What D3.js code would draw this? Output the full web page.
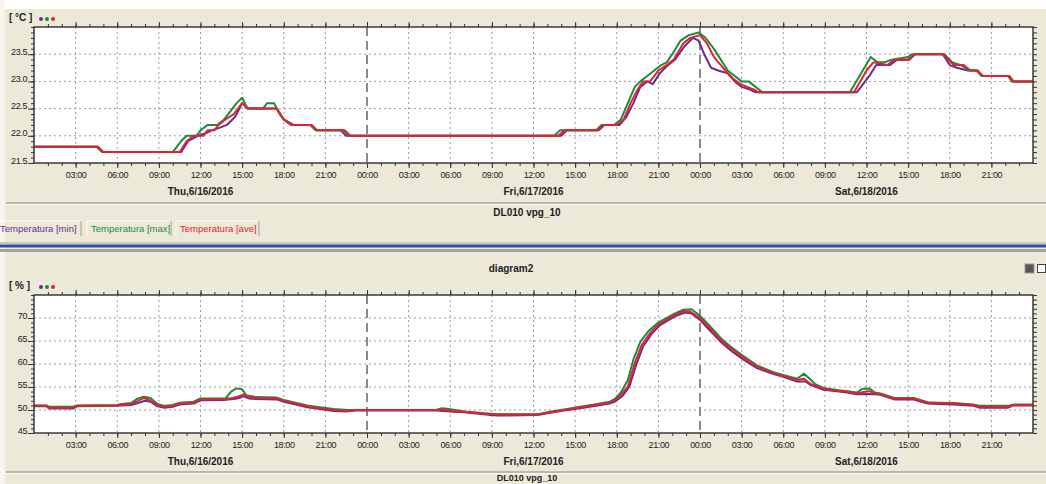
<!DOCTYPE html>
<html>
<head>
<meta charset="utf-8">
<title>DL010 vpg_10</title>
<script src="https://d3js.org/d3.v7.min.js"></script>
<style>
  body { margin: 0; background: #fff; }
  text { font-family: "Liberation Sans", Arial, sans-serif; }
  .tick text { font-size: 9px; fill: #222; letter-spacing: -0.4px; }
  .domain { display: none; }
  .tick line { stroke: #333; }
  .grid line { stroke: #9a9a9a; stroke-dasharray: 2,3; }
  .dayline { stroke: #8a8a8a; stroke-width: 2; stroke-dasharray: 9,5; }
  .series { fill: none; stroke-width: 2; stroke-linejoin: round; }
</style>
</head>
<body>
<script>

// hours since Thu 6/16/2016 00:00, value
var tempMin = [[0,21.8],[4.6,21.8],[5.0,21.7],[10.6,21.7],[11.1,21.9],[11.8,22.0],[12.4,22.05],[12.8,22.1],[13.4,22.15],[13.9,22.2],[14.5,22.35],[15.0,22.6],[15.4,22.5],[17.5,22.5],[18.0,22.3],[18.7,22.2],[20.0,22.2],[20.4,22.1],[22.1,22.1],[22.5,22.0],[38.0,22.0],[38.4,22.1],[40.7,22.1],[41.1,22.2],[42.2,22.2],[42.7,22.35],[43.2,22.6],[43.7,22.9],[44.2,23.0],[44.6,22.95],[45.1,23.15],[45.7,23.3],[46.2,23.4],[46.9,23.65],[47.5,23.8],[47.9,23.75],[48.3,23.5],[48.8,23.25],[49.3,23.2],[50.0,23.15],[50.5,23.0],[51.0,22.9],[51.6,22.85],[52.0,22.8],[59.3,22.8],[60.2,23.1],[60.7,23.3],[61.7,23.3],[62.2,23.4],[63.1,23.4],[63.5,23.5],[65.5,23.5],[66.0,23.3],[66.5,23.25],[67.3,23.2],[68.0,23.2],[68.3,23.1],[70.2,23.1],[70.5,23.0],[72,23.0]];
var tempMax = [[0,21.8],[4.5,21.8],[4.9,21.7],[10.0,21.7],[10.6,21.9],[11.0,22.0],[11.7,22.0],[12.0,22.1],[12.5,22.2],[13.2,22.2],[13.7,22.3],[14.0,22.4],[14.3,22.5],[14.6,22.6],[15.0,22.7],[15.4,22.5],[16.5,22.5],[16.8,22.6],[17.3,22.6],[17.7,22.4],[18.0,22.3],[18.5,22.2],[19.9,22.2],[20.3,22.1],[22.3,22.1],[22.7,22.0],[37.5,22.0],[37.9,22.1],[40.5,22.1],[40.9,22.2],[41.8,22.2],[42.3,22.3],[42.8,22.6],[43.3,22.9],[43.7,23.0],[44.2,23.1],[44.7,23.2],[45.2,23.3],[45.6,23.35],[46.0,23.5],[46.6,23.75],[47.2,23.85],[47.9,23.9],[48.4,23.8],[49.0,23.6],[49.5,23.4],[50.0,23.2],[50.5,23.1],[51.0,23.0],[51.5,23.0],[52.0,22.9],[52.5,22.8],[58.8,22.8],[59.5,23.1],[60.3,23.45],[60.8,23.35],[61.3,23.35],[61.8,23.4],[63.0,23.45],[63.3,23.5],[65.6,23.5],[66.2,23.35],[66.8,23.3],[67.4,23.2],[67.9,23.2],[68.3,23.1],[70.2,23.1],[70.5,23.0],[72,23.0]];
var tempAve = [[0,21.8],[4.6,21.8],[5.0,21.7],[10.5,21.7],[11.0,21.9],[11.5,22.0],[12.2,22.0],[12.5,22.1],[13.0,22.1],[13.3,22.2],[13.8,22.3],[14.4,22.4],[15.0,22.6],[15.4,22.5],[17.5,22.5],[18.0,22.3],[18.6,22.2],[20.0,22.2],[20.4,22.1],[22.4,22.1],[22.8,22.0],[37.8,22.0],[38.2,22.1],[40.6,22.1],[41.0,22.2],[42.0,22.2],[42.5,22.3],[43.0,22.6],[43.5,22.85],[43.9,23.0],[44.4,23.0],[45.0,23.2],[45.6,23.3],[46.1,23.4],[46.8,23.7],[47.3,23.8],[48.0,23.85],[48.5,23.7],[49.0,23.45],[49.5,23.3],[50.0,23.15],[50.4,23.05],[50.9,22.95],[51.4,22.9],[51.9,22.85],[52.2,22.8],[59.1,22.8],[60.0,23.2],[60.5,23.35],[61.5,23.3],[62.0,23.4],[63.0,23.4],[63.5,23.5],[65.5,23.5],[66.3,23.3],[67.0,23.3],[67.5,23.2],[68.0,23.2],[68.4,23.1],[70.3,23.1],[70.6,23.0],[72,23.0]];

var humMin = [[0,50.8],[0.9,50.8],[1.1,50.3],[2.8,50.3],[3.1,50.8],[6.0,50.9],[6.3,51.0],[7.0,51.1],[7.6,51.6],[8.0,52.0],[8.4,51.8],[8.9,50.8],[9.4,50.5],[10.0,50.7],[10.5,51.2],[11.5,51.4],[12.0,52.1],[13.8,52.2],[14.4,52.4],[14.8,52.6],[15.1,53.0],[15.5,52.5],[16.0,52.4],[17.5,52.3],[18.0,51.8],[18.7,51.3],[19.7,50.6],[20.6,50.2],[21.6,49.8],[22.6,49.7],[23.2,49.9],[29.0,49.9],[30.0,49.7],[31.0,49.5],[32.9,48.9],[33.4,48.8],[36.3,48.9],[37.2,49.4],[38.2,49.9],[39.6,50.5],[40.6,51.0],[41.5,51.4],[41.9,51.9],[42.4,53.0],[42.9,55.0],[43.4,59.8],[43.9,63.8],[44.5,66.5],[45.1,68.4],[45.7,69.5],[46.3,70.5],[46.9,71.2],[47.4,71.0],[48.0,69.6],[48.7,67.3],[49.5,64.8],[50.2,63.0],[51.0,61.2],[52.1,59.1],[53.3,57.8],[54.0,57.2],[55.0,56.2],[55.6,56.2],[56.0,55.4],[56.9,54.4],[58.0,54.0],[58.6,53.8],[59.3,53.4],[60.0,53.5],[60.6,53.4],[61.0,53.3],[62.0,52.3],[63.4,52.3],[64.4,51.4],[65.1,51.3],[66.3,51.2],[67.7,50.9],[68.2,50.5],[70.2,50.5],[70.6,51.0],[72,51.0]];
var humMax = [[0,51.0],[0.9,51.0],[1.1,50.7],[2.8,50.7],[3.1,51.0],[6.0,51.1],[6.3,51.3],[7.0,51.5],[7.4,52.4],[7.9,52.9],[8.4,52.6],[8.9,51.3],[9.4,50.9],[10.0,51.1],[10.5,51.6],[11.5,51.8],[12.0,52.5],[13.8,52.5],[14.2,54.0],[14.6,54.7],[15.0,54.5],[15.3,53.2],[16.0,52.8],[17.5,52.7],[18.0,52.2],[18.7,51.7],[19.7,51.0],[20.6,50.6],[21.6,50.2],[22.6,50.0],[29.0,50.0],[29.4,50.4],[29.9,50.2],[31.0,49.7],[32.9,49.2],[33.4,49.1],[36.3,49.1],[37.2,49.6],[38.2,50.1],[39.6,50.8],[40.6,51.3],[41.5,51.8],[41.9,52.5],[42.3,53.8],[42.8,56.5],[43.2,61.0],[43.7,64.8],[44.3,67.2],[45.0,69.0],[45.6,70.0],[46.2,71.0],[46.8,71.8],[47.4,71.9],[48.0,70.5],[48.7,68.3],[49.5,65.6],[50.2,63.8],[51.0,62.0],[52.1,59.7],[53.3,58.2],[54.0,57.6],[55.0,56.8],[55.5,57.9],[55.9,56.8],[56.3,55.6],[56.9,54.8],[58.0,54.3],[58.6,54.1],[59.3,53.8],[59.7,54.6],[60.2,54.7],[60.6,53.8],[61.0,53.6],[62.0,52.6],[63.4,52.6],[64.4,51.7],[65.1,51.6],[66.3,51.5],[67.7,51.2],[68.2,50.9],[70.2,50.9],[70.6,51.2],[72,51.2]];
var humAve = [[0,50.9],[0.9,50.9],[1.1,50.5],[2.8,50.5],[3.1,50.9],[6.0,51.0],[6.3,51.2],[7.0,51.3],[7.5,52.0],[7.9,52.6],[8.3,52.2],[8.9,51.0],[9.4,50.7],[10.0,50.9],[10.5,51.4],[11.5,51.6],[12.0,52.3],[13.8,52.4],[14.3,52.6],[14.8,53.0],[15.1,53.4],[15.5,52.9],[16.0,52.6],[17.5,52.5],[18.0,52.0],[18.7,51.5],[19.7,50.8],[20.6,50.4],[21.6,50.0],[22.6,49.8],[23.2,50.0],[29.0,50.0],[29.5,50.1],[30.0,49.8],[31.0,49.6],[32.9,49.1],[33.4,49.0],[36.3,49.0],[37.2,49.5],[38.2,50.0],[39.6,50.7],[40.6,51.2],[41.5,51.6],[41.9,52.2],[42.3,53.3],[42.8,55.1],[43.3,60.2],[43.8,64.1],[44.4,66.7],[45.0,68.6],[45.6,69.6],[46.2,70.7],[46.8,71.5],[47.3,71.4],[48.0,70.0],[48.7,67.8],[49.5,65.2],[50.2,63.4],[51.0,61.6],[52.1,59.4],[53.3,58.0],[54.0,57.4],[55.0,56.5],[55.5,56.8],[56.0,55.6],[56.9,54.6],[58.0,54.2],[58.6,54.0],[59.3,53.6],[59.8,53.9],[60.2,54.1],[60.6,53.6],[61.0,53.5],[62.0,52.5],[63.4,52.5],[64.4,51.6],[65.1,51.5],[66.3,51.4],[67.7,51.1],[68.2,50.7],[70.2,50.7],[70.6,51.1],[72,51.1]];

var tempTicks = [21.5, 22.0, 22.5, 23.0, 23.5];
var humTicks = [45, 50, 55, 60, 65, 70];
var legendNames = ["Temperatura [min]", "Temperatura [max]", "Temperatura [ave]"];
var colors = ["#6b2c8f", "#1f8a3a", "#e0232e"];

var w = 1046, h = 484,
    t0 = new Date(2016, 5, 16),
    t1 = new Date(2016, 5, 19);

function hourDate(hh) { return new Date(t0.getTime() + hh * 3600e3); }

var svg = d3.select("body").append("svg")
    .attr("width", w)
    .attr("height", h);

// window background
svg.append("rect").attr("width", w).attr("height", h).attr("fill", "#ece9d8");
svg.append("rect").attr("width", w).attr("height", 9).attr("fill", "#fff");
svg.append("rect").attr("width", 5).attr("height", h).attr("fill", "#f6f5ee");

var x = d3.scaleTime().domain([t0, t1]).range([34, 1033]);

function separator(y) {
  svg.append("line").attr("x1", 6).attr("x2", w).attr("y1", y).attr("y2", y)
      .attr("stroke", "#a8a79a").attr("stroke-width", 1.5);
  svg.append("line").attr("x1", 6).attr("x2", w).attr("y1", y + 1.5).attr("y2", y + 1.5)
      .attr("stroke", "#fbfaf4");
}

function panel(top, bottom, domain, ticks, minorStep, unit, series) {
  var y = d3.scaleLinear().domain(domain).range([bottom, top]);
  var g = svg.append("g");

  g.append("rect")
      .attr("x", x.range()[0]).attr("y", top)
      .attr("width", x.range()[1] - x.range()[0]).attr("height", bottom - top)
      .attr("fill", "#fff");

  var hours3 = d3.range(3, 72, 3);

  // grid
  g.append("g").attr("class", "grid").selectAll("line")
      .data(ticks.filter(function(d) { return d > domain[0] && d < domain[1]; }))
    .enter().append("line")
      .attr("x1", x.range()[0]).attr("x2", x.range()[1])
      .attr("y1", function(d) { return y(d); }).attr("y2", function(d) { return y(d); });
  g.append("g").attr("class", "grid").selectAll("line")
      .data(hours3.filter(function(d) { return d % 24 != 0; }))
    .enter().append("line")
      .attr("x1", function(d) { return x(hourDate(d)); }).attr("x2", function(d) { return x(hourDate(d)); })
      .attr("y1", top).attr("y2", bottom);
  g.selectAll("line.dayline")
      .data([24, 48])
    .enter().append("line")
      .attr("class", "dayline")
      .attr("x1", function(d) { return x(hourDate(d)); }).attr("x2", function(d) { return x(hourDate(d)); })
      .attr("y1", top).attr("y2", bottom);

  // series lines
  var line = d3.line()
      .x(function(d) { return x(hourDate(d[0])); })
      .y(function(d) { return y(d[1]); });
  series.forEach(function(s, i) {
    g.append("path").attr("class", "series")
        .attr("d", line(s))
        .attr("stroke", colors[i]);
  });

  // frame
  g.append("rect")
      .attr("x", x.range()[0]).attr("y", top)
      .attr("width", x.range()[1] - x.range()[0]).attr("height", bottom - top)
      .attr("fill", "none").attr("stroke", "#3a3a3a").attr("stroke-width", 1.5);

  // hourly minor ticks, top and bottom
  var hourTicks = d3.range(1, 72).map(hourDate);
  g.append("g").attr("transform", "translate(0," + bottom + ")")
      .call(d3.axisBottom(x).tickValues(hourTicks).tickSize(3).tickFormat(""));
  g.append("g").attr("transform", "translate(0," + top + ")")
      .call(d3.axisTop(x).tickValues(hourTicks).tickSize(3).tickFormat(""));
  g.append("g").attr("transform", "translate(0," + top + ")")
      .call(d3.axisTop(x).tickValues(hours3.map(hourDate)).tickSize(5).tickFormat(""));
  g.append("g").attr("transform", "translate(0," + bottom + ")")
      .call(d3.axisBottom(x).tickValues(hours3.map(hourDate)).tickSize(5).tickPadding(4)
        .tickFormat(d3.timeFormat("%H:%M")));

  // day labels
  g.selectAll("text.day")
      .data([12, 36, 60])
    .enter().append("text")
      .attr("class", "day")
      .attr("x", function(d) { return x(hourDate(d)); })
      .attr("y", bottom + 32)
      .attr("text-anchor", "middle")
      .style("font-size", "10px").style("font-weight", "bold").style("fill", "#222")
      .text(function(d) { return d3.timeFormat("%a,%-m/%-d/%Y")(hourDate(d)); });

  // y axes
  var minor = d3.range(domain[0], domain[1] + minorStep / 2, minorStep);
  g.append("g").attr("transform", "translate(" + x.range()[0] + ",0)")
      .call(d3.axisLeft(y).tickValues(minor).tickSize(3).tickFormat(""));
  g.append("g").attr("transform", "translate(" + x.range()[0] + ",0)")
      .call(d3.axisLeft(y).tickValues(ticks).tickSize(6).tickPadding(1)
        .tickFormat(function(d) { return domain[1] < 30 ? d3.format(".1f")(d) : d; }))
    .selectAll("text").attr("dy", "0em");
  g.append("g").attr("transform", "translate(" + x.range()[1] + ",0)")
      .call(d3.axisRight(y).tickValues(minor).tickSize(4).tickFormat(""));

  // unit label with series dots
  g.append("text").attr("x", 9).attr("y", top - 6)
      .style("font-size", "10px").style("font-weight", "bold").style("fill", "#222")
      .text(unit);
  g.selectAll("circle.dot")
      .data(colors)
    .enter().append("circle")
      .attr("cx", function(d, i) { return 41 + i * 6; })
      .attr("cy", top - 8)
      .attr("r", 2)
      .attr("fill", function(d) { return d; });
}

panel(27, 163, [21.5, 24.0], tempTicks, 0.1, "[ °C ]", [tempMin, tempMax, tempAve]);
panel(295, 433, [45, 75], humTicks, 1, "[ % ]", [humMin, humMax, humAve]);

// titles
svg.append("text").attr("x", 527).attr("y", 216).attr("text-anchor", "middle")
    .style("font-size", "10px").style("font-weight", "bold").style("fill", "#222")
    .text("DL010 vpg_10");
svg.append("text").attr("x", 511).attr("y", 272).attr("text-anchor", "middle")
    .style("font-size", "10px").style("font-weight", "bold").style("fill", "#222")
    .text("diagram2");
svg.append("text").attr("x", 527).attr("y", 481).attr("text-anchor", "middle")
    .style("font-size", "9px").style("font-weight", "bold").style("fill", "#222")
    .text("DL010 vpg_10");

separator(203);
separator(472);

// legend tabs
var tabX = [-4, 87, 176], tabW = [85, 84, 83];
var tabs = svg.selectAll("g.tab")
    .data(legendNames)
  .enter().append("g")
    .attr("class", "tab")
    .attr("transform", function(d, i) { return "translate(" + tabX[i] + ",221)"; });
tabs.append("path")
    .attr("d", function(d, i) { return "M0,15V0H" + tabW[i]; })
    .attr("fill", "none").attr("stroke", "#fdfdf8");
tabs.append("path")
    .attr("d", function(d, i) { return "M" + tabW[i] + ",0V15"; })
    .attr("fill", "none").attr("stroke", "#a09f92");
tabs.append("text")
    .attr("x", 4).attr("y", 11)
    .style("font-size", "9.5px")
    .attr("fill", function(d, i) { return colors[i]; })
    .text(function(d) { return d; });

// splitter bar
svg.append("rect").attr("y", 242).attr("width", w).attr("height", 2).attr("fill", "#c9c8bb");
svg.append("rect").attr("y", 244.5).attr("width", w).attr("height", 3).attr("fill", "#2f4ca6");
svg.append("rect").attr("y", 249).attr("width", w).attr("height", 3).attr("fill", "#a3a296");

// small window icons
svg.append("rect").attr("x", 1025).attr("y", 264).attr("width", 9).attr("height", 9)
    .attr("fill", "#555").attr("stroke", "#999");
svg.append("rect").attr("x", 1037.5).attr("y", 264.5).attr("width", 8).attr("height", 8)
    .attr("fill", "#fff").attr("stroke", "#444");

</script>
</body>
</html>
